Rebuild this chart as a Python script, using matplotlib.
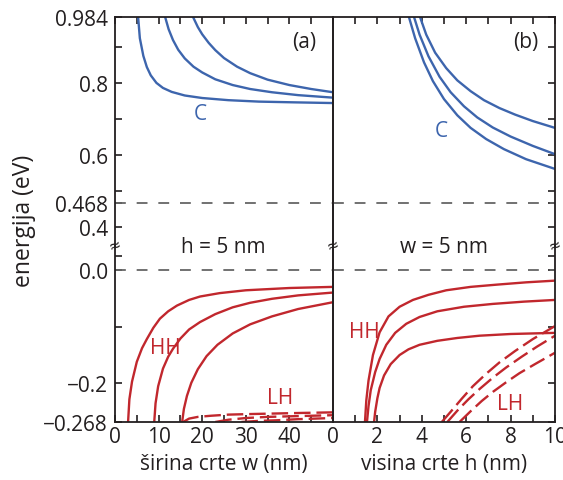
import numpy as np
import matplotlib
matplotlib.use("Agg")
import matplotlib.pyplot as plt

plt.rcParams['font.family'] = ['Open Sans', 'DejaVu Sans']
plt.rcParams['font.size'] = 15

# panel (a): energy vs wire width w (nm), h = 5 nm
wa_c1 = [5.3, 5.7, 6.5, 7.3, 8.2, 9.5, 11.0, 13.0, 16.0, 20.0, 26.0, 33.0, 41.0, 50.0]
ea_c1 = [0.984, 0.925, 0.876, 0.845, 0.822, 0.801, 0.787, 0.776, 0.766, 0.759, 0.753, 0.749, 0.747, 0.745]
wa_c2 = [11.5, 12.3, 13.3, 14.5, 16.0, 18.0, 20.0, 23.0, 27.0, 31.0, 36.0, 42.0, 50.0]
ea_c2 = [0.984, 0.950, 0.920, 0.893, 0.869, 0.846, 0.830, 0.811, 0.795, 0.784, 0.775, 0.767, 0.760]
wa_c3 = [17.9, 19.0, 20.0, 21.5, 23.0, 25.0, 28.0, 31.0, 35.0, 40.0, 45.0, 50.0]
ea_c3 = [0.984, 0.956, 0.936, 0.912, 0.892, 0.870, 0.846, 0.828, 0.810, 0.795, 0.784, 0.775]

wa_hh1 = [3.0, 3.3, 3.9, 5.0, 6.2, 7.3, 8.8, 10.3, 12.2, 14.2, 17.0, 19.5, 24.0, 30.0, 40.0, 50.0]
ea_hh1 = [-0.268, -0.228, -0.197, -0.162, -0.138, -0.122, -0.102, -0.086, -0.073, -0.063, -0.053, -0.047, -0.041, -0.036, -0.032, -0.030]
wa_hh2 = [9.0, 9.3, 9.9, 11.0, 12.2, 13.3, 15.0, 17.0, 19.5, 23.0, 27.0, 31.0, 36.0, 42.0, 50.0]
ea_hh2 = [-0.268, -0.235, -0.205, -0.174, -0.153, -0.139, -0.121, -0.105, -0.092, -0.078, -0.066, -0.058, -0.051, -0.045, -0.040]
wa_hh3 = [15.4, 15.8, 16.5, 17.5, 19.0, 21.0, 23.5, 27.0, 31.0, 36.0, 42.0, 50.0]
ea_hh3 = [-0.268, -0.245, -0.222, -0.199, -0.175, -0.152, -0.132, -0.112, -0.096, -0.082, -0.069, -0.057]

wa_lh1 = [15.6, 17.0, 19.0, 22.0, 26.0, 31.0, 37.0, 43.0, 50.0]
ea_lh1 = [-0.268, -0.262, -0.259, -0.257, -0.255, -0.254, -0.253, -0.252, -0.251]
wa_lh2 = [23.0, 26.0, 30.0, 35.0, 40.0, 45.0, 50.0]
ea_lh2 = [-0.268, -0.264, -0.261, -0.259, -0.258, -0.257, -0.256]
wa_lh3 = [29.0, 33.0, 37.0, 42.0, 46.0, 50.0]
ea_lh3 = [-0.268, -0.266, -0.265, -0.263, -0.262, -0.261]

# panel (b): energy vs wire height h (nm), w = 5 nm
hb_c1 = [3.92, 4.2, 4.6, 5.1, 5.6, 6.2, 6.8, 7.5, 8.2, 9.0, 10.0]
eb_c1 = [0.984, 0.935, 0.885, 0.842, 0.808, 0.778, 0.753, 0.731, 0.713, 0.695, 0.676]
hb_c2 = [3.65, 3.9, 4.3, 4.8, 5.3, 5.9, 6.5, 7.2, 8.0, 9.0, 10.0]
eb_c2 = [0.984, 0.935, 0.875, 0.818, 0.775, 0.736, 0.705, 0.677, 0.652, 0.626, 0.603]
hb_c3 = [3.42, 3.7, 4.1, 4.5, 5.0, 5.6, 6.2, 6.9, 7.7, 8.7, 10.0]
eb_c3 = [0.984, 0.925, 0.858, 0.806, 0.756, 0.711, 0.676, 0.645, 0.617, 0.589, 0.562]

hb_hh1 = [1.44, 1.5, 1.6, 1.8, 2.1, 2.5, 3.0, 3.6, 4.3, 5.1, 6.2, 7.4, 8.7, 10.0]
eb_hh1 = [-0.268, -0.230, -0.195, -0.150, -0.110, -0.082, -0.065, -0.053, -0.044, -0.036, -0.030, -0.026, -0.022, -0.019]
hb_hh2 = [1.53, 1.6, 1.7, 1.9, 2.1, 2.4, 2.8, 3.3, 3.9, 4.7, 5.9, 7.2, 8.6, 10.0]
eb_hh2 = [-0.268, -0.240, -0.212, -0.180, -0.157, -0.132, -0.111, -0.095, -0.083, -0.073, -0.065, -0.060, -0.056, -0.053]
hb_hh3 = [1.85, 1.9, 2.0, 2.1, 2.3, 2.6, 3.0, 3.4, 3.9, 4.7, 5.6, 6.6, 8.0, 10.0]
eb_hh3 = [-0.268, -0.250, -0.226, -0.208, -0.186, -0.166, -0.150, -0.140, -0.132, -0.125, -0.120, -0.116, -0.113, -0.111]

hb_lh1 = [4.9, 5.3, 5.8, 6.3, 6.9, 7.5, 8.2, 9.0, 10.0]
eb_lh1 = [-0.268, -0.250, -0.227, -0.205, -0.183, -0.163, -0.143, -0.122, -0.099]
hb_lh2 = [5.15, 5.6, 6.1, 6.6, 7.2, 7.8, 8.5, 9.2, 10.0]
eb_lh2 = [-0.268, -0.248, -0.228, -0.210, -0.190, -0.172, -0.153, -0.135, -0.116]
hb_lh3 = [5.7, 6.2, 6.7, 7.2, 7.8, 8.4, 9.1, 10.0]
eb_lh3 = [-0.268, -0.249, -0.231, -0.215, -0.198, -0.182, -0.166, -0.146]

top_ticks = [0.4, 0.468, 0.5, 0.6, 0.7, 0.8, 0.9, 0.984]
top_labels = ['0.4', '0.468', '', '0.6', '', '0.8', '', '0.984']
bot_ticks = [-0.268, -0.2, -0.1, 0.0, 0.025]
bot_labels = ['\u22120.268', '\u22120.2', '', '0.0', '']

blue = '#3d65ad'
red = '#c1272d'
grey = '#666666'
ink = '#231f20'
fs = 15

fig = plt.figure(figsize=(5.63, 4.81), dpi=100)
gs = fig.add_gridspec(2, 2, left=115/563, right=555/563, top=1-18/481, bottom=1-423/481,
                      height_ratios=[229, 176], width_ratios=[218, 222], hspace=0, wspace=0)
ta = fig.add_subplot(gs[0, 0])
ba = fig.add_subplot(gs[1, 0])
tb = fig.add_subplot(gs[0, 1])
bb = fig.add_subplot(gs[1, 1])

lw = 1.7
for w, e in [(wa_c1, ea_c1), (wa_c2, ea_c2), (wa_c3, ea_c3)]:
    ta.plot(w, e, color=blue, lw=lw)
for w, e in [(wa_hh1, ea_hh1), (wa_hh2, ea_hh2), (wa_hh3, ea_hh3)]:
    ba.plot(w, e, color=red, lw=lw)
for w, e in [(wa_lh1, ea_lh1), (wa_lh2, ea_lh2), (wa_lh3, ea_lh3)]:
    ba.plot(w, e, color=red, lw=lw, dashes=(7, 2.5))
for h, e in [(hb_c1, eb_c1), (hb_c2, eb_c2), (hb_c3, eb_c3)]:
    tb.plot(h, e, color=blue, lw=lw)
for h, e in [(hb_hh1, eb_hh1), (hb_hh2, eb_hh2), (hb_hh3, eb_hh3)]:
    bb.plot(h, e, color=red, lw=lw)
for h, e in [(hb_lh1, eb_lh1), (hb_lh2, eb_lh2), (hb_lh3, eb_lh3)]:
    bb.plot(h, e, color=red, lw=lw, dashes=(7, 2.5))

for ax in (ta, tb):
    ax.axhline(0.468, color=grey, lw=1.3, dashes=(6, 6))
    ax.set_ylim(0.348, 0.984)
for ax in (ba, bb):
    ax.axhline(0.0, color=grey, lw=1.3, dashes=(6, 6))
    ax.set_ylim(-0.268, 0.042)
for ax in (ta, ba):
    ax.set_xlim(0, 50)
    ax.set_xticks(np.arange(0, 51, 5))
for ax in (tb, bb):
    ax.set_xlim(0, 10)
    ax.set_xticks(np.arange(0, 11, 1))

for ax in (ta, tb, ba, bb):
    ax.patch.set_visible(False)
    for s in ax.spines.values():
        s.set_linewidth(1.3)
        s.set_color(ink)
    ax.tick_params(direction='in', length=5, width=1.2, color=ink, labelcolor=ink,
                   labelsize=fs, pad=5)
for ax in (ta, tb):
    ax.spines['bottom'].set_visible(False)
    ax.set_yticks(top_ticks)
for ax in (ba, bb):
    ax.spines['top'].set_visible(False)
    ax.set_yticks(bot_ticks)

ta.tick_params(left=True, right=False, top=True, bottom=False, labelbottom=False)
ta.set_yticklabels(top_labels)
tb.tick_params(left=False, right=True, top=True, bottom=False, labelbottom=False, labelleft=False)
ba.tick_params(left=True, right=False, top=False, bottom=True, pad=3)
ba.set_yticklabels(bot_labels)
ba.tick_params(axis='y', pad=5)
ba.set_xticklabels(['0', '', '10', '', '20', '', '30', '', '40', '', ''])
bb.tick_params(left=False, right=True, top=False, bottom=True, labelleft=False, pad=3)
bb.set_xticklabels(['0', '', '2', '', '4', '', '6', '', '8', '', '10'])

ta.text(19.5, 0.715, 'C', color=blue, fontsize=fs, ha='center', va='center')
ta.text(43.5, 0.917, '(a)', color=ink, fontsize=fs, ha='center', va='center')
ba.text(11.5, -0.136, 'HH', color=red, fontsize=fs, ha='center', va='center')
ba.text(37.8, -0.224, 'LH', color=red, fontsize=fs, ha='center', va='center')
tb.text(4.9, 0.67, 'C', color=blue, fontsize=fs, ha='center', va='center')
tb.text(8.7, 0.917, '(b)', color=ink, fontsize=fs, ha='center', va='center')
bb.text(1.4, -0.108, 'HH', color=red, fontsize=fs, ha='center', va='center')
bb.text(8.0, -0.236, 'LH', color=red, fontsize=fs, ha='center', va='center')
fig.text(223/563, 1-248/481, 'h = 5 nm', color=ink, fontsize=fs, ha='center', va='center')
fig.text(444/563, 1-248/481, 'w = 5 nm', color=ink, fontsize=fs, ha='center', va='center')

for xp in (115, 333, 555):
    fig.text(xp/563, 1-247/481, '\u2248', fontsize=14, ha='center', va='center', color=ink,
             rotation=20)

ba.set_xlabel('\u0161irina crte w (nm)', fontsize=fs, color=ink, labelpad=4)
bb.set_xlabel('visina crte h (nm)', fontsize=fs, color=ink, labelpad=4)
fig.text(24/563, 1-221/481, 'energija (eV)', rotation=90, fontsize=16.5, color=ink,
         ha='center', va='center')

fig.savefig('out.png', dpi=100)
